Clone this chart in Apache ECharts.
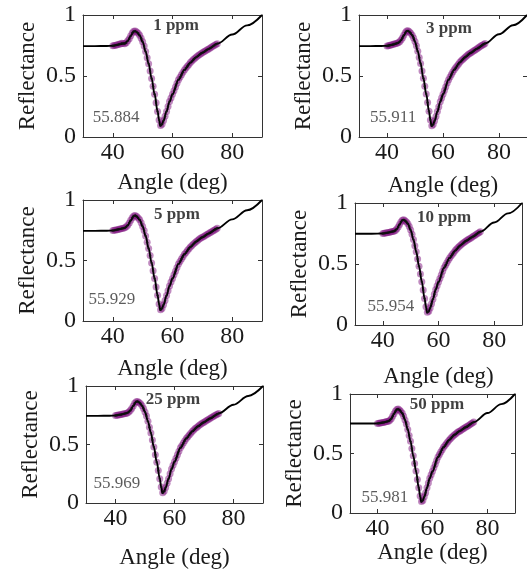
<!DOCTYPE html>
<html>
<head>
<meta charset="utf-8">
<script src="https://cdn.jsdelivr.net/npm/echarts@6/dist/echarts.min.js"></script>
<style>
html,body{margin:0;padding:0;background:#fff;}
#c{width:527px;height:570px;}
</style>
</head>
<body>
<div id="c"></div>
<script>
// ---- data ----
const panelLabels = ['1 ppm', '3 ppm', '5 ppm', '10 ppm', '25 ppm', '50 ppm'];
const minAngleLabels = ['55.884', '55.911', '55.929', '55.954', '55.969', '55.981'];
const xTickValues = [40, 60, 80];
const yTickValues = [0, 0.5, 1];

const fitAngles = [30, 34, 38, 40, 42, 44, 45, 46, 47, 47.5, 48, 49, 50, 51, 52, 53, 54, 55, 55.5, 55.9, 56.5, 57, 58, 59, 60, 62, 64, 66, 68, 70, 72, 75, 80, 85, 90];
const fit1 = [0.745,0.745,0.746,0.748,0.757,0.768,0.788,0.828,0.865,0.868,0.860,0.833,0.780,0.700,0.600,0.480,0.350,0.210,0.140,0.092,0.105,0.135,0.210,0.290,0.350,0.470,0.550,0.610,0.655,0.690,0.720,0.765,0.840,0.915,1.000];
const fit2 = [0.745,0.745,0.746,0.748,0.756,0.770,0.792,0.832,0.868,0.870,0.862,0.835,0.782,0.702,0.602,0.482,0.352,0.212,0.138,0.090,0.103,0.133,0.208,0.288,0.350,0.470,0.552,0.612,0.656,0.690,0.722,0.766,0.842,0.916,1.000];
const fit3 = [0.745,0.745,0.746,0.748,0.758,0.770,0.790,0.830,0.868,0.872,0.864,0.836,0.782,0.702,0.600,0.480,0.352,0.212,0.140,0.090,0.104,0.134,0.210,0.290,0.352,0.472,0.552,0.612,0.657,0.692,0.722,0.766,0.840,0.915,1.000];
const fit4 = [0.748,0.748,0.749,0.750,0.757,0.768,0.786,0.824,0.858,0.862,0.855,0.830,0.778,0.700,0.600,0.482,0.355,0.218,0.148,0.102,0.112,0.140,0.212,0.292,0.352,0.470,0.550,0.610,0.655,0.690,0.720,0.764,0.840,0.915,1.000];
const fit5 = [0.745,0.745,0.746,0.748,0.757,0.770,0.790,0.830,0.866,0.868,0.860,0.832,0.778,0.698,0.598,0.478,0.348,0.208,0.135,0.085,0.100,0.132,0.208,0.290,0.352,0.472,0.552,0.612,0.656,0.690,0.722,0.766,0.840,0.915,1.000];
const fit6 = [0.752,0.752,0.752,0.753,0.760,0.772,0.792,0.834,0.870,0.873,0.866,0.838,0.782,0.702,0.602,0.482,0.352,0.212,0.142,0.095,0.106,0.136,0.212,0.292,0.350,0.470,0.552,0.612,0.657,0.690,0.720,0.764,0.840,0.915,1.000];

const measAngles = [40,40.5,41,41.5,42,42.5,43,43.5,44,44.5,45,45.5,46,46.5,47,47.5,48,48.5,49,49.5,50,50.5,51,51.5,52,52.5,53,53.5,54,54.5,55,55.5,56,56.5,57,57.5,58,58.5,59,59.5,60,60.5,61,61.5,62,62.5,63,63.5,64,64.5,65,65.5,66,66.5,67,67.5,68,68.5,69,69.5,70,70.5,71,71.5,72,72.5,73,73.5,74,74.5,75];
const meas1 = [.748,.750,.753,.756,.760,.763,.768,.766,.764,.772,.788,.806,.830,.852,.866,.868,.860,.850,.833,.810,.780,.745,.700,.650,.600,.540,.480,.415,.350,.280,.210,.140,.095,.105,.135,.170,.210,.250,.290,.320,.350,.380,.410,.440,.470,.490,.510,.530,.550,.565,.580,.595,.610,.622,.635,.645,.655,.665,.675,.683,.690,.698,.705,.713,.720,.728,.735,.743,.750,.758,.765];
const meas2 = [.746,.748,.752,.755,.758,.762,.765,.768,.772,.780,.795,.812,.834,.855,.868,.870,.862,.851,.835,.812,.782,.747,.702,.652,.602,.542,.482,.417,.352,.282,.212,.140,.092,.103,.133,.168,.208,.248,.288,.320,.350,.382,.412,.442,.470,.492,.512,.532,.552,.567,.582,.597,.612,.624,.636,.646,.656,.666,.676,.684,.690,.699,.707,.714,.722,.730,.737,.745,.752,.759,.766];
const meas3 = [.747,.749,.752,.755,.758,.761,.764,.767,.771,.778,.792,.810,.832,.854,.868,.872,.864,.852,.836,.812,.782,.747,.702,.651,.600,.541,.480,.416,.352,.282,.212,.141,.092,.104,.134,.169,.210,.250,.290,.322,.352,.382,.412,.442,.472,.492,.512,.532,.552,.567,.582,.597,.612,.624,.637,.647,.657,.667,.677,.685,.692,.699,.706,.714,.722,.729,.736,.744,.751,.758,.766];
const meas4 = [.750,.752,.754,.756,.758,.761,.764,.766,.768,.775,.786,.803,.824,.845,.858,.862,.855,.845,.830,.808,.778,.744,.700,.650,.600,.542,.482,.418,.355,.287,.218,.150,.104,.112,.140,.175,.212,.252,.292,.322,.352,.381,.410,.440,.470,.490,.510,.530,.550,.565,.580,.595,.610,.622,.635,.645,.655,.665,.675,.683,.690,.698,.705,.712,.720,.727,.734,.742,.749,.757,.764];
const meas5 = [.748,.750,.753,.755,.757,.760,.763,.766,.770,.778,.790,.808,.830,.852,.866,.868,.860,.848,.832,.808,.778,.743,.698,.648,.598,.538,.478,.413,.348,.278,.208,.137,.087,.100,.132,.168,.208,.250,.290,.322,.352,.382,.412,.442,.472,.492,.512,.532,.552,.567,.582,.597,.612,.624,.636,.646,.656,.666,.676,.684,.690,.699,.707,.714,.722,.730,.737,.745,.752,.759,.766];
const meas6 = [.753,.754,.756,.758,.760,.763,.766,.769,.772,.780,.792,.812,.834,.856,.870,.873,.866,.853,.838,.813,.782,.747,.702,.652,.602,.542,.482,.417,.352,.282,.212,.142,.096,.106,.136,.171,.212,.252,.292,.322,.350,.380,.410,.441,.470,.492,.512,.532,.552,.567,.582,.597,.612,.624,.637,.647,.657,.667,.676,.684,.690,.697,.705,.712,.720,.727,.734,.742,.749,.757,.764];

const fits = [fit1, fit2, fit3, fit4, fit5, fit6];
const meas = [meas1, meas2, meas3, meas4, meas5, meas6];

// ---- layout (pixels) ----
const layout = [
  {left: 83,  top: 15,  width: 179, height: 122, xNameGap: 34},
  {left: 359, top: 15,  width: 172, height: 122, xNameGap: 37},
  {left: 83,  top: 200, width: 179, height: 121, xNameGap: 36},
  {left: 355, top: 203, width: 167, height: 122, xNameGap: 40},
  {left: 86,  top: 386, width: 177, height: 121, xNameGap: 43},
  {left: 350, top: 394, width: 165, height: 119, xNameGap: 21}
];
// annotation anchors in data coordinates
const concLabelAt = [[61.2,0.91],[62.1,0.89],[61.5,0.876],[62,0.877],[59.5,0.884],[61.6,0.908]];
const minLabelAt  = [[41.1,0.156],[42.2,0.156],[39.7,0.174],[42.9,0.148],[40.5,0.165],[42.7,0.134]];

const FONT = 'Liberation Serif';
const TXT = '#1a1a1a';
const AX = '#333';

const grids = [], xAxes = [], yAxes = [], series = [];
function pairs(xs, ys) { return xs.map((x, k) => [x, ys[k]]); }

layout.forEach((L, i) => {
  grids.push({left: L.left, top: L.top, width: L.width, height: L.height, containLabel: false});
  const xb = {
    type: 'value', gridIndex: i, min: 30, max: 90, position: 'bottom',
    axisLine: {show: true, onZero: false, lineStyle: {color: AX, width: 1}},
    axisTick: {show: true, inside: true, length: 4, customValues: xTickValues, lineStyle: {color: AX}},
    axisLabel: {show: true, customValues: xTickValues, fontFamily: FONT, fontSize: 24, color: TXT, margin: 4},
    splitLine: {show: false},
    name: 'Angle (deg)', nameLocation: 'middle', nameGap: L.xNameGap,
    nameTextStyle: {fontFamily: FONT, fontSize: 23, color: TXT}
  };
  const xt = {
    type: 'value', gridIndex: i, min: 30, max: 90, position: 'top',
    axisLine: {show: true, onZero: false, lineStyle: {color: AX, width: 1}},
    axisTick: {show: true, inside: true, length: 4, customValues: xTickValues, lineStyle: {color: AX}},
    axisLabel: {show: false}, splitLine: {show: false}
  };
  const yl = {
    type: 'value', gridIndex: i, min: 0, max: 1, interval: 0.5, position: 'left',
    axisLine: {show: true, onZero: false, lineStyle: {color: AX, width: 1}},
    axisTick: {show: true, inside: true, length: 4, lineStyle: {color: AX}},
    axisLabel: {show: true, fontFamily: FONT, fontSize: 24, color: TXT, margin: 7},
    splitLine: {show: false},
    name: 'Reflectance', nameLocation: 'middle', nameGap: 44,
    nameTextStyle: {fontFamily: FONT, fontSize: 23, color: TXT}
  };
  const yr = {
    type: 'value', gridIndex: i, min: 0, max: 1, interval: 0.5, position: 'right',
    axisLine: {show: true, onZero: false, lineStyle: {color: AX, width: 1}},
    axisTick: {show: true, inside: true, length: 4, lineStyle: {color: AX}},
    axisLabel: {show: false}, splitLine: {show: false}
  };
  xAxes.push(xb, xt);
  yAxes.push(yl, yr);
  const xi = 2 * i, yi = 2 * i;
  // measured points (purple)
  series.push({
    type: 'scatter', xAxisIndex: xi, yAxisIndex: yi, z: 2,
    data: pairs(measAngles, meas[i]),
    symbol: 'circle', symbolSize: 7,
    itemStyle: {color: 'rgba(128,20,128,0.62)'}
  });
  // fitted curve (black)
  series.push({
    type: 'line', xAxisIndex: xi, yAxisIndex: yi, z: 3,
    data: pairs(fitAngles, fits[i]),
    showSymbol: false, smooth: 0.35, smoothMonotone: 'x',
    lineStyle: {color: '#000', width: 1.9}
  });
  // small black dots at measurement angles
  series.push({
    type: 'scatter', xAxisIndex: xi, yAxisIndex: yi, z: 4,
    data: pairs(measAngles, meas[i]),
    symbol: 'circle', symbolSize: 2.4,
    itemStyle: {color: '#111'}
  });
  // annotations
  series.push({
    type: 'scatter', xAxisIndex: xi, yAxisIndex: yi, z: 5,
    symbol: 'circle', symbolSize: 1, itemStyle: {color: 'rgba(0,0,0,0)'},
    data: [
      {value: concLabelAt[i], label: {show: true, position: 'inside', formatter: panelLabels[i], fontFamily: FONT, fontWeight: 'bold', fontSize: 17, color: '#111'}},
      {value: minLabelAt[i], label: {show: true, position: 'inside', formatter: minAngleLabels[i], fontFamily: FONT, fontSize: 17, color: '#333'}}
    ]
  });
});

const chart = echarts.init(document.getElementById('c'), null, {renderer: 'canvas'});
chart.setOption({
  animation: false,
  backgroundColor: '#fff',
  grid: grids,
  xAxis: xAxes,
  yAxis: yAxes,
  series: series
});
</script>
</body>
</html>
